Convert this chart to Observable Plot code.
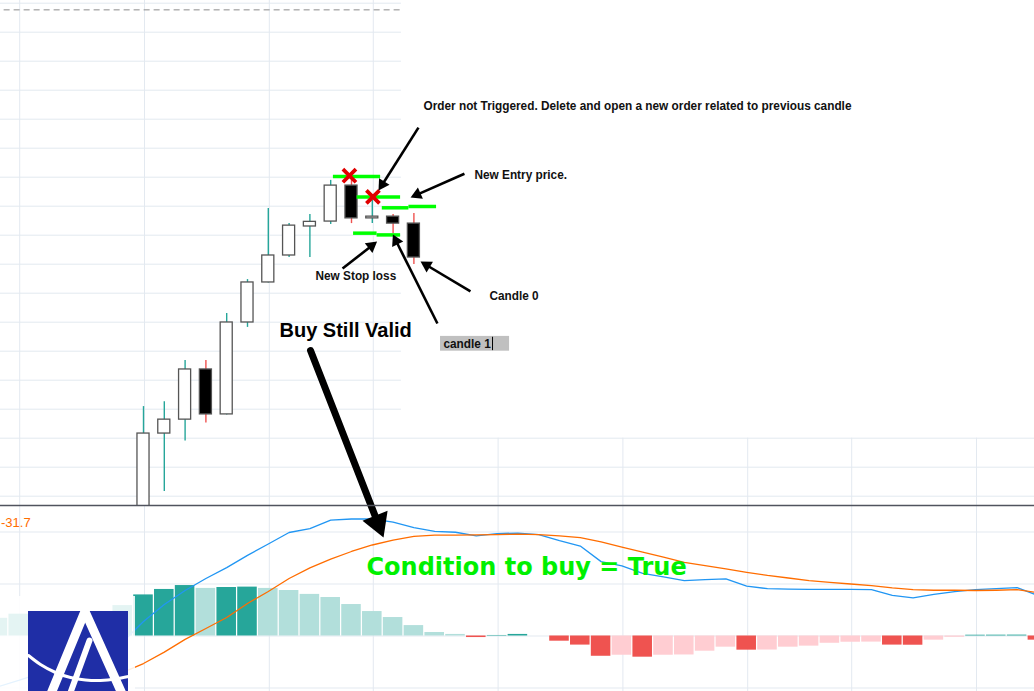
<!DOCTYPE html>
<html><head><meta charset="utf-8">
<script src="https://cdn.jsdelivr.net/npm/d3@7"></script>
<script src="https://cdn.jsdelivr.net/npm/@observablehq/plot@0.6"></script>
<style>
body{margin:0;background:#fff;}
#wrap{position:relative;width:1034px;height:691px;overflow:hidden;background:#fff;}
#wrap svg{position:absolute;left:0;}
</style></head><body><div id="wrap"></div>
<script>
// ---------- price candles (bar index, price units) ----------
const candleIndex = [0,1,2,3,4,5,6,7,8,9,10,11,12,13];
const opens  = [118.0,151.6,156.4,173.7,158.2,189.9,203.7,213.0,223.0,224.7,237.1,225.8,226.4,224.0];
const highs  = [160.9,162.6,176.8,176.8,193.0,204.7,229.2,224.0,227.1,238.9,240.9,232.0,227.1,227.5];
const lows   = [112.0,131.6,149.0,155.2,158.0,188.2,203.5,212.3,212.3,223.7,224.0,224.0,220.6,209.9];
const closes = [151.6,156.4,173.7,158.2,189.9,203.7,213.0,223.3,224.6,237.1,225.8,226.4,224.0,212.3];

// ---------- MACD panel (bar index -7..43) ----------
const histIndex = d3.range(-7, 44);
const histValues = [6.8,8.4,8.6,8.8,9.0,9.2,11.7,
  15.8,17.9,19.4,18.3,18.65,18.8,18.3,17.5,16.0,14.8,12.1,9.4,7.1,4.0,1.35,0.6,-0.6,0.2,0.6,0.0,
  -2.0,-3.5,-7.8,-7.4,-8.15,-7.4,-7.3,-5.85,-4.3,-5.45,-5.4,-4.3,-3.9,-2.8,-2.4,-2.35,-3.5,-3.55,-1.6,-0.5,
  0.3,0.32,0.34,-1.6];
const macdValues = [-19.5,-17.1,-14.5,-11.6,-8.3,-4.8,-2.3,
  5.6,12.1,17.5,22.1,26.3,31.0,35.4,39.8,41.3,44.6,45.0,45.0,43.8,41.7,40.2,39.9,38.5,39.4,39.6,39.0,
  36.7,34.6,28.6,27.0,24.1,22.7,21.3,21.7,22.0,19.2,18.2,18.0,17.9,17.9,17.9,17.8,15.6,14.7,16.0,17.1,
  17.8,18.2,18.6,15.6];
const signalValues = [-26.7,-25.6,-24.0,-22.1,-19.8,-17.1,-14.0,
  -10.6,-6.2,-1.3,2.9,7.1,12.5,17.1,22.1,26.2,29.6,32.5,35.0,36.9,38.3,38.8,38.8,38.9,39.0,39.2,39.0,
  38.5,37.8,36.2,34.2,32.3,30.3,28.3,27.1,25.8,24.5,23.3,22.3,21.3,20.6,20.0,19.4,18.5,17.8,17.6,17.6,
  17.5,17.6,17.8,16.7];
const signalLabel = "-31.7";

// ---------- grid ----------
const gridPrices = [300,290,280,270,260,250,240,230,220,210,200,190,180,170,160,150,140,130];
const gridBars = [-6,0,6,11,17,23,29,34,40];
const macdGrid = [-20,0,20,40];

// ---------- annotations (bar index, price units) ----------
const greenLevels = [
  {x1: 9.13, x2: 11.4, p: 240.2},
  {x1: 10.27, x2: 12.36, p: 233.2},
  {x1: 11.48, x2: 12.76, p: 229.45},
  {x1: 12.76, x2: 14.09, p: 229.9},
  {x1: 10.1, x2: 11.23, p: 220.7},
  {x1: 11.23, x2: 12.36, p: 220.1}
];
const cancelled = [{i: 9.9, p: 240.5}, {i: 11.03, p: 233.2}];
const arrows = [
  {x1: 13.22, y1: 257.1, x2: 11.3, y2: 235.4},
  {x1: 15.43, y1: 241.2, x2: 12.84, y2: 233.0},
  {x1: 9.57, y1: 208.5, x2: 11.23, y2: 217.8},
  {x1: 14.13, y1: 189.55, x2: 11.99, y2: 220.2},
  {x1: 15.72, y1: 200.6, x2: 13.32, y2: 210.9}
];
const bigArrow = [{x1: 8.03, y1: 180.24, x2: 11.54, y2: 115.76}];
const notes = [
  {text: "Order not Triggered. Delete and open a new order related to previous candle", i: 13.46, p: 264.4},
  {text: "New Entry price.", i: 15.91, p: 240.9},
  {text: "New Stop loss", i: 8.27, p: 205.8},
  {text: "Candle 0", i: 16.63, p: 198.9},
  {text: "candle 1", i: 14.42, p: 182.4}
];

// ---------- logo shapes (local units) ----------
const logoLeftLeg = [{x: 84, y: 16}, {x: 51, y: 96}];
const logoRightLeg = [{x: 85, y: 16}, {x: 121, y: 96}];
const logoInner = [{x: 89, y: 44}, {x: 70, y: 96}];
const logoArc = [{x:28,y:59},{x:40,y:68},{x:55,y:76},{x:70,y:81},{x:85,y:83.5},{x:100,y:84},{x:115,y:82.5},{x:128,y:80}];

const GRID = "#e3e9f0", TEAL = "#26a69a", TEAL_L = "#b2dfdb", RED = "#ef5350", RED_L = "#ffcdd2";
const BLUE = "#2196f3", ORANGE = "#ff6d00";
const NARROW = "'Liberation Sans Narrow','Arial Narrow','Liberation Sans',Arial,sans-serif";
const X_DOMAIN = [-6.875, 42.837];
const P_DOMAIN = [126.79, 300.93];
const W = 1034, TOP_H = 505;

const candles = candleIndex.map((i, k) => ({i, open: opens[k], high: highs[k], low: lows[k], close: closes[k]}));
const hist = histIndex.map((i, k) => {
  const v = histValues[k], prev = k > 0 ? histValues[k - 1] : v - 1;
  const color = v >= 0 ? (v > prev ? TEAL : TEAL_L) : (v < prev ? RED : RED_L);
  return {i, v, macd: macdValues[k], signal: signalValues[k], color};
});

// arrow heads: filled triangles placed at each arrow tip, pointing along the shaft
const sx = d3.scaleLinear(X_DOMAIN, [0, W]);
const sy = d3.scaleLinear(P_DOMAIN, [TOP_H, 0]);
function withHeads(list, r) {
  return list.map(a => {
    const px1 = sx(a.x1), py1 = sy(a.y1), px2 = sx(a.x2), py2 = sy(a.y2);
    const len = Math.hypot(px2 - px1, py2 - py1), ux = (px2 - px1) / len, uy = (py2 - py1) / len;
    const cx = px2 - ux * 1.555 * r, cy = py2 - uy * 1.555 * r;
    return {...a, hx: sx.invert(cx), hy: sy.invert(cy), rot: Math.atan2(ux, -uy) * 180 / Math.PI};
  });
}
const thin = withHeads(arrows, 4.6);
const thick = withHeads(bigArrow, 10);

const topPlot = Plot.plot({
  width: W, height: TOP_H, margin: 0,
  x: {domain: X_DOMAIN, axis: null},
  y: {domain: P_DOMAIN, axis: null},
  color: {type: "identity"},
  style: "overflow: visible; background: transparent; z-index: 2; top: 0px;",
  marks: [
    Plot.ruleY(gridPrices.filter(p => p >= 160), {x1: X_DOMAIN[0], x2: 12.4, stroke: GRID}),
    Plot.ruleY(gridPrices.filter(p => p < 160), {stroke: GRID}),
    Plot.ruleX(gridBars.filter(b => b < 12), {stroke: GRID, dx: 1}),
    Plot.ruleX(gridBars.filter(b => b > 12), {y1: 150, y2: P_DOMAIN[0], stroke: GRID, dx: 1}),
    Plot.ruleY([297.7], {x1: -6.7, x2: 12.4, stroke: "#8a8a8a", strokeDasharray: "6,4"}),
    Plot.ruleX(candles, {x: "i", y1: "low", y2: "high", stroke: d => d.close >= d.open ? TEAL : RED, strokeWidth: 1.4, clip: true}),
    Plot.rect(candles, {x1: d => d.i - 0.29, x2: d => d.i + 0.29, y1: "open", y2: "close",
      fill: d => d.close >= d.open ? "white" : "black", stroke: "#555", strokeWidth: 1.3, clip: true}),
    Plot.ruleY(greenLevels, {x1: "x1", x2: "x2", y: "p", stroke: "#00ff00", strokeWidth: 3.5}),
    Plot.dot(cancelled, {x: "i", y: "p", symbol: "times", r: 6, stroke: "#e00000", strokeWidth: 3.8}),
    Plot.link(thin, {x1: "x1", y1: "y1", x2: "hx", y2: "hy", stroke: "black", strokeWidth: 2.6}),
    Plot.dot(thin, {x: "hx", y: "hy", symbol: "triangle", r: 4.6, rotate: "rot", fill: "black", stroke: "none"}),
    Plot.link(thick, {x1: "x1", y1: "y1", x2: "hx", y2: "hy", stroke: "black", strokeWidth: 7, strokeLinecap: "round"}),
    Plot.dot(thick, {x: "hx", y: "hy", symbol: "triangle", r: 10, rotate: "rot", fill: "black", stroke: "none"}),
    Plot.rect([0], {x1: 14.28, x2: 17.6, y1: 180.0, y2: 185.1, fill: "#c0c0c0"}),
    Plot.ruleX([16.78], {y1: 180.2, y2: 184.8, stroke: "black", strokeWidth: 1}),
    Plot.text(notes, {x: "i", y: "p", text: "text", textAnchor: "start", fontFamily: NARROW, fontWeight: 700, fontSize: 12.5, fill: "#111"}),
    Plot.text(["Buy Still Valid"], {x: 6.54, y: 187.1, textAnchor: "start", fontFamily: "'Liberation Sans',Arial,sans-serif", fontWeight: 700, fontSize: 20, fill: "#000"}),
    Plot.ruleY([P_DOMAIN[0]], {stroke: "#50535e", strokeWidth: 1.5})
  ]
});

const bottomPlot = Plot.plot({
  width: W, height: 186, margin: 0,
  x: {domain: X_DOMAIN, axis: null},
  y: {domain: [-21.35, 50.19], axis: null},
  color: {type: "identity"},
  style: "background: transparent; z-index: 1; top: 505px;",
  marks: [
    Plot.ruleY(macdGrid, {stroke: GRID}),
    Plot.ruleX(gridBars, {stroke: GRID, dx: 1}),
    Plot.rect(hist, {x1: d => d.i - 0.47, x2: d => d.i + 0.47, y1: 0, y2: "v", fill: "color"}),
    Plot.line(hist, {x: "i", y: "macd", stroke: BLUE, strokeWidth: 1.3}),
    Plot.line(hist, {x: "i", y: "signal", stroke: ORANGE, strokeWidth: 1.3}),
    Plot.text([signalLabel], {x: X_DOMAIN[0], y: 43.65, dx: 0.5, textAnchor: "start", fontFamily: "'Liberation Sans',Arial,sans-serif", fontSize: 13, fill: ORANGE}),
    Plot.text(["Condition to buy = True"], {x: 10.72, y: 26.35, textAnchor: "start", fontFamily: "'DejaVu Sans',Verdana,sans-serif", fontWeight: 700, fontSize: 24, fill: "#00f000"})
  ]
});

const logoPlot = Plot.plot({
  width: 135, height: 95, margin: 0,
  x: {domain: [0, 135], axis: null},
  y: {domain: [95, 0], axis: null},
  style: "background: transparent; z-index: 3; top: 596px;",
  marks: [
    Plot.rect([0], {x1: 0, x2: 135, y1: 0, y2: 95, fill: "white", fillOpacity: 0.88}),
    Plot.rect([0], {x1: 28, x2: 128, y1: 15, y2: 95, fill: "#1f2ea6"}),
    Plot.line(logoLeftLeg, {x: "x", y: "y", stroke: "white", strokeWidth: 9, clip: true}),
    Plot.line(logoRightLeg, {x: "x", y: "y", stroke: "white", strokeWidth: 9, clip: true}),
    Plot.line(logoInner, {x: "x", y: "y", stroke: "white", strokeWidth: 6, clip: true}),
    Plot.line(logoArc, {x: "x", y: "y", stroke: "white", strokeWidth: 3, curve: "natural"})
  ]
});

const wrap = document.getElementById("wrap");
wrap.appendChild(bottomPlot);
wrap.appendChild(topPlot);
wrap.appendChild(logoPlot);

// the annotations in the original use a condensed bold face: narrow the glyphs to match
const noteTexts = new Set(notes.map(n => n.text));
d3.select(topPlot).selectAll("text").each(function () {
  if (noteTexts.has(this.textContent)) {
    const w = this.getComputedTextLength();
    this.setAttribute("textLength", (w * 0.945).toFixed(1));
    this.setAttribute("lengthAdjust", "spacingAndGlyphs");
  }
});
</script>
</body></html>
